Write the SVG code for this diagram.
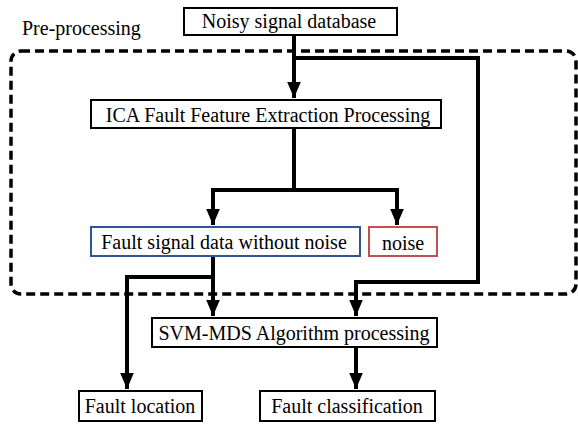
<svg xmlns="http://www.w3.org/2000/svg" width="578" height="427" viewBox="0 0 578 427">
<defs>
<marker id="ah" markerWidth="4" markerHeight="3.4" refX="4" refY="1.7" orient="auto" markerUnits="strokeWidth">
<path d="M0,0 L4,1.7 L0,3.4 Z" fill="#000"/>
</marker>
<style>
.box{fill:#fff;stroke:#000;stroke-width:2}
.t{font-family:"Liberation Serif","Times New Roman",serif;font-size:20px;fill:#000;text-anchor:middle}
.c{fill:none;stroke:#000;stroke-width:4}
</style>
</defs>
<rect x="11" y="51" width="565" height="243" rx="10" fill="none" stroke="#000" stroke-width="3.5" stroke-dasharray="9,5"/>
<text x="22" y="35" style="font-family:'Liberation Serif','Times New Roman',serif;font-size:20px">Pre-processing</text>
<g id="connectors">
<path class="c" d="M294,35 V98" marker-end="url(#ah)"/>
<path class="c" d="M294,58 H478 V282 H356 V316" marker-end="url(#ah)"/>
<path class="c" d="M294,128 V190 H213 V225" marker-end="url(#ah)"/>
<path class="c" d="M294,190 H397 V225" marker-end="url(#ah)"/>
<path class="c" d="M213,256 V316" marker-end="url(#ah)"/>
<path class="c" d="M213,277 H127 V389" marker-end="url(#ah)"/>
<path class="c" d="M356,347 V389" marker-end="url(#ah)"/>
</g>
<g id="noisy"><rect class="box" x="184" y="8" width="213" height="27"/><text class="t" x="289" y="28">Noisy signal database</text></g>
<g id="ica"><rect class="box" x="91" y="100" width="350" height="28"/><text class="t" x="268" y="122">ICA Fault Feature Extraction Processing</text></g>
<g id="fault"><rect x="91" y="227" width="269" height="29" fill="#fff" stroke="#2e5597" stroke-width="2"/><text class="t" x="224" y="249">Fault signal data without noise</text></g>
<g id="noise"><rect x="369" y="227" width="68" height="29" fill="#fff" stroke="#c0504d" stroke-width="2"/><text class="t" x="403" y="250">noise</text></g>
<g id="svm"><rect class="box" x="152" y="318" width="285" height="29"/><text class="t" x="294" y="340">SVM-MDS Algorithm processing</text></g>
<g id="loc"><rect class="box" x="79" y="391" width="123" height="30"/><text class="t" x="140" y="413">Fault location</text></g>
<g id="cls"><rect class="box" x="260" y="391" width="175" height="30"/><text class="t" x="347" y="413">Fault classification</text></g>
</svg>
